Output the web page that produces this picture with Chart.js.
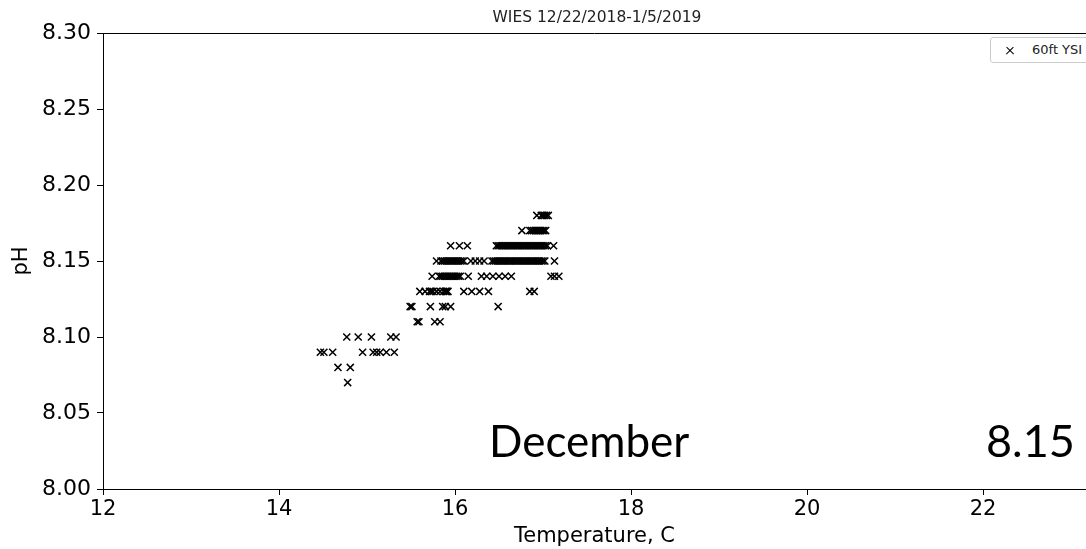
<!DOCTYPE html>
<html>
<head>
<meta charset="utf-8">
<script src="https://cdn.jsdelivr.net/npm/chart.js@4.4.0/dist/chart.umd.min.js"></script>
<style>
  html, body { margin: 0; padding: 0; background: #fff; }
  #wrap { position: relative; width: 1086px; height: 549px; overflow: hidden; }
  #chart { position: absolute; left: 0; top: 0; }
  .title { position: absolute; left: 397px; top: 9px; width: 400px; text-align: center;
           font: 15.5px/16px "DejaVu Sans"; color: #222; }
  .legend { position: absolute; left: 990px; top: 37px; width: 120px; height: 24px;
            border: 1px solid #ccc; border-radius: 3px; background: #fff; }
  .legend .mk { position: absolute; left: 15px; top: 9px; width: 8px; height: 8px; }
  .legend .mk::before, .legend .mk::after { content: ""; position: absolute; left: -1px; top: 3px;
            width: 10px; height: 1.4px; background: #000; transform: rotate(45deg); }
  .legend .mk::after { transform: rotate(-45deg); }
  .legend .txt { position: absolute; left: 41px; top: 5px; font: 13px/13px "DejaVu Sans"; color: #222; }
  .note { position: absolute; font: 44px/44px Lato; color: #000; }
</style>
</head>
<body>
<div id="wrap">
  <canvas id="chart" width="1086" height="549"></canvas>
  <div class="title">WIES 12/22/2018-1/5/2019</div>
  <div class="legend"><span class="mk"></span><span class="txt">60ft YSI</span></div>
  <div class="note" style="left:489px; top:418px;">December</div>
  <div class="note" style="left:986px; top:418px; font-size:45px;">8.15</div>
</div>
<script>
/* DATA - temperatures (C), one list per pH step */
const phLevels = [8.07, 8.08, 8.09, 8.10, 8.11, 8.12, 8.13, 8.14, 8.15, 8.16, 8.17, 8.18];

const temp807 = [14.78];
const temp808 = [14.67, 14.81];
const temp809 = [14.47, 14.51, 14.61, 14.95, 15.07, 15.11, 15.15, 15.22, 15.31];
const temp810 = [14.77, 14.90, 15.05, 15.27, 15.33];
const temp811 = [15.57, 15.59, 15.77, 15.83];
const temp812 = [15.49, 15.51, 15.72, 15.86, 15.89, 15.95, 16.49];
const temp813 = [15.60, 15.66, 15.71, 15.73, 15.75, 15.79, 15.83, 15.87, 15.89, 15.90,
                 15.91, 15.92, 16.10, 16.19, 16.28, 16.38, 16.85, 16.90];
const temp814 = [15.74, 15.82, 15.84, 15.86, 15.88, 15.90, 15.92, 15.94, 15.96, 15.98,
                 16.00, 16.02, 16.04, 16.06, 16.15, 16.30, 16.36, 16.43, 16.50, 16.57,
                 16.64, 17.09, 17.13, 17.18];
const temp815 = [15.79, 15.84, 15.86, 15.88, 15.90, 15.92, 15.94, 15.96, 15.98, 16.00,
                 16.02, 16.04, 16.06, 16.08, 16.10, 16.18, 16.23, 16.28, 16.33, 16.42,
                 16.44, 16.46, 16.48, 16.50, 16.52, 16.54, 16.56, 16.58, 16.60, 16.62,
                 16.64, 16.66, 16.68, 16.70, 16.72, 16.74, 16.76, 16.78, 16.80, 16.82,
                 16.84, 16.86, 16.88, 16.90, 16.92, 16.94, 16.96, 16.98, 17.00, 17.02,
                 17.13];
const temp816 = [15.95, 16.05, 16.14, 16.47, 16.49, 16.51, 16.53, 16.55, 16.57, 16.59,
                 16.61, 16.63, 16.65, 16.67, 16.69, 16.71, 16.73, 16.75, 16.77, 16.79,
                 16.81, 16.83, 16.85, 16.87, 16.89, 16.91, 16.93, 16.95, 16.97, 16.99,
                 17.01, 17.03, 17.05, 17.12];
const temp817 = [16.76, 16.85, 16.87, 16.89, 16.91, 16.93, 16.95, 16.97, 16.99, 17.01, 17.03];
const temp818 = [16.93, 16.98, 17.00, 17.02, 17.04, 17.06];

const tempRows = [temp807, temp808, temp809, temp810, temp811, temp812,
                  temp813, temp814, temp815, temp816, temp817, temp818];

const xTicks = [12, 14, 16, 18, 20, 22];
const yTicks = [8.00, 8.05, 8.10, 8.15, 8.20, 8.25, 8.30];

let points = [];
tempRows.forEach((row, i) => {
    row.forEach(t => points.push({ x: t, y: phLevels[i] }));
});

/* top spine like the original plot frame */
const topLine = {
    id: "topLine",
    afterDraw(chart) {
        const a = chart.chartArea, ctx = chart.ctx;
        ctx.save();
        ctx.strokeStyle = "#000";
        ctx.lineWidth = 1;
        ctx.beginPath();
        ctx.moveTo(a.left, a.top + 0.5);
        ctx.lineTo(a.right, a.top + 0.5);
        ctx.stroke();
        ctx.restore();
    }
};

const xFont = { family: "DejaVu Sans", size: 21 };
const yFont = { family: "DejaVu Sans", size: 22 };

new Chart(document.getElementById("chart"), {
    type: "scatter",
    data: {
        datasets: [{
            label: "60ft YSI",
            data: points,
            pointStyle: "crossRot",
            pointRadius: 5,
            pointBorderWidth: 1.5,
            borderColor: "#000",
            backgroundColor: "#000"
        }]
    },
    options: {
        responsive: false,
        animation: false,
        devicePixelRatio: 1,
        layout: { autoPadding: false, padding: { top: 33, right: 0, left: 0, bottom: 0 } },
        plugins: { legend: { display: false }, tooltip: { enabled: false } },
        scales: {
            x: {
                type: "linear",
                min: 12,
                max: 23.17,
                afterBuildTicks: s => { s.ticks = xTicks.map(v => ({ value: v })); },
                afterFit: s => { s.height = 60; },
                ticks: { color: "#000", font: xFont, padding: 2, maxRotation: 0 },
                grid: { drawOnChartArea: false, color: "#000", tickLength: 6 },
                border: { color: "#000", width: 1 },
                title: { display: true, text: "Temperature, C", color: "#000",
                         font: xFont, padding: { top: 0, bottom: 0 } }
            },
            y: {
                type: "linear",
                min: 8.0,
                max: 8.3,
                afterBuildTicks: s => { s.ticks = yTicks.map(v => ({ value: v })); },
                afterFit: s => { s.width = 103; },
                ticks: { color: "#000", font: yFont, padding: 6,
                         callback: v => v.toFixed(2) },
                grid: { drawOnChartArea: false, color: "#000", tickLength: 6 },
                border: { color: "#000", width: 1 },
                title: { display: true, text: "pH", color: "#000",
                         font: xFont, padding: { top: 9, bottom: 0 } }
            }
        }
    },
    plugins: [topLine]
});
</script>
</body>
</html>
